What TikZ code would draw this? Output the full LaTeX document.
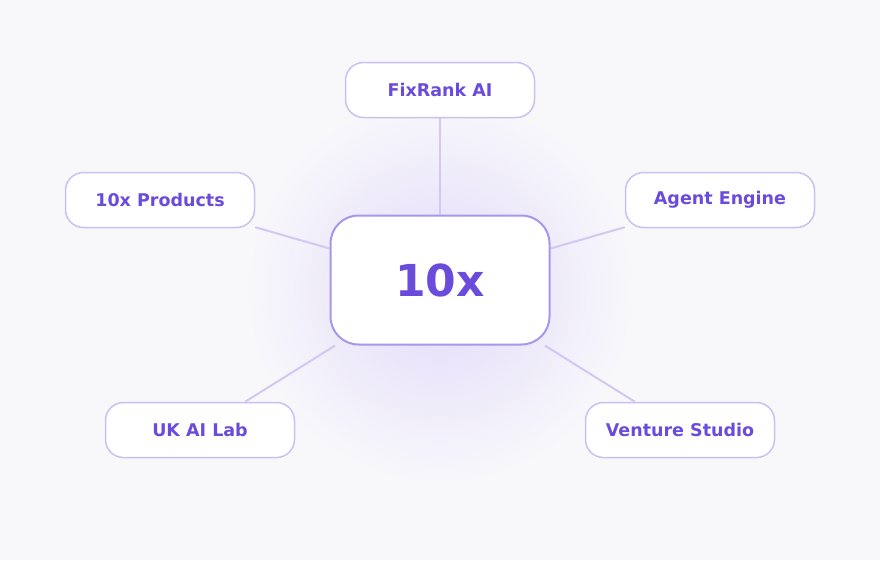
\documentclass[tikz,border=0pt]{standalone}
\usepackage{fontspec}
\setmainfont{DejaVu Sans}
\definecolor{bg}{HTML}{F8F8FB}
\definecolor{txt}{HTML}{6A4BDB}
\definecolor{edge}{HTML}{D4C8F2}
\definecolor{sat}{HTML}{CDBFF0}
\definecolor{cen}{HTML}{A796EC}
\definecolor{glow}{HTML}{E2DAF9}
\pgfdeclarelayer{back}
\pgfsetlayers{back,main}
\begin{document}
\begin{tikzpicture}[x=1pt,y=-1pt,
 sat/.style={draw=sat,line width=1.5pt,fill=white,rounded corners=18pt,minimum width=189pt,minimum height=55pt,text=txt,font=\bfseries\fontsize{17.5}{20}\selectfont,inner sep=0pt},
 cen/.style={draw=cen,line width=2pt,fill=white,rounded corners=28pt,minimum width=219pt,minimum height=129pt,text=txt,font=\bfseries\fontsize{44}{50}\selectfont,inner sep=0pt},
 link/.style={draw=edge,line width=2pt}]
\node[cen] (c) at (440,280) {10x};
\node[sat] (f) at (440,90) {FixRank AI};
\node[sat] (p) at (160,200) {10x Products};
\node[sat] (a) at (720,200) {Agent Engine};
\node[sat] (u) at (200,430) {UK AI Lab};
\node[sat] (v) at (680,430) {Venture Studio};
\begin{pgfonlayer}{back}
\fill[bg] (0,0) rectangle (880,560);
\shade[inner color=glow,outer color=bg] (440,290) circle (195pt);
\draw[link] (c.north) -- (f.south);
\draw[link] (c) -- (p);
\draw[link] (c) -- (a);
\draw[link] (c) -- (u);
\draw[link] (c) -- (v);
\end{pgfonlayer}
\useasboundingbox (0,0) rectangle (880,560);
\end{tikzpicture}
\end{document}
